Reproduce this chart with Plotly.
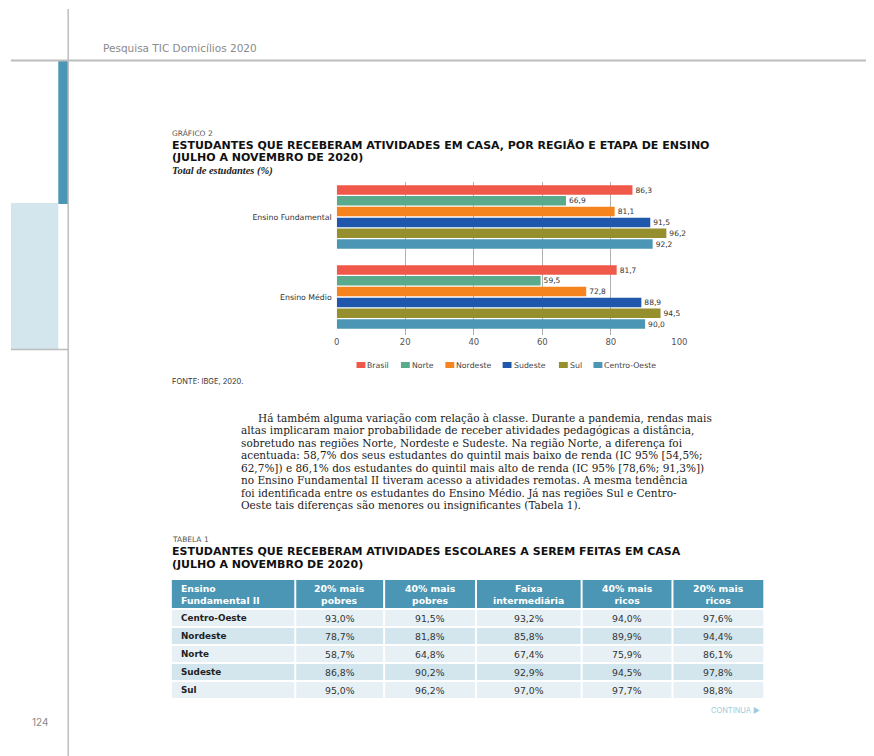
import plotly.graph_objects as go

W, H = 874, 756

# ---------------- data ----------------
categorias = ["Ensino Fundamental", "Ensino Médio"]
series = ["Brasil", "Norte", "Nordeste", "Sudeste", "Sul", "Centro-Oeste"]
brasil = [86.3, 81.7]
norte = [66.9, 59.5]
nordeste = [81.1, 72.8]
sudeste = [91.5, 88.9]
sul = [96.2, 94.5]
centro_oeste = [92.2, 90.0]
cores = ["#f0584a", "#5aab8c", "#f5841f", "#1f57ad", "#968f2e", "#4a96b4"]
x_ticks = [0, 20, 40, 60, 80, 100]

tabela_cabecalho = ["Ensino<br>Fundamental II", "20% mais<br>pobres", "40% mais<br>pobres",
                    "Faixa<br>intermediária", "40% mais<br>ricos", "20% mais<br>ricos"]
tabela_regioes = ["Centro-Oeste", "Nordeste", "Norte", "Sudeste", "Sul"]
mais_pobres_20 = [93.0, 78.7, 58.7, 86.8, 95.0]
mais_pobres_40 = [91.5, 81.8, 64.8, 90.2, 96.2]
faixa_intermediaria = [93.2, 85.8, 67.4, 92.9, 97.0]
mais_ricos_40 = [94.0, 89.9, 75.9, 94.5, 97.7]
mais_ricos_20 = [97.6, 94.4, 86.1, 97.8, 98.8]

paragrafo = [
    "Há também alguma variação com relação à classe. Durante a pandemia, rendas mais",
    "altas implicaram maior probabilidade de receber atividades pedagógicas a distância,",
    "sobretudo nas regiões Norte, Nordeste e Sudeste. Na região Norte, a diferença foi",
    "acentuada: 58,7% dos seus estudantes do quintil mais baixo de renda (IC 95% [54,5%;",
    "62,7%]) e 86,1% dos estudantes do quintil mais alto de renda (IC 95% [78,6%; 91,3%])",
    "no Ensino Fundamental II tiveram acesso a atividades remotas. A mesma tendência",
    "foi identificada entre os estudantes do Ensino Médio. Já nas regiões Sul e Centro-",
    "Oeste tais diferenças são menores ou insignificantes (Tabela 1).",
]

# ---------------- helpers ----------------
def px(x):
    return x / W

def py(y):
    return 1 - y / H

def br(v, suf=""):
    return f"{v:.1f}".replace(".", ",") + suf

SANS = "'DejaVu Sans', sans-serif"
INTER = "Inter, Roboto, sans-serif"
SERIF = "'DejaVu Serif', serif"

fig = go.Figure()

valores = [brasil, norte, nordeste, sudeste, sul, centro_oeste]
for nome, vals, cor in zip(series, valores, cores):
    fig.add_trace(go.Bar(
        orientation="h", y=categorias, x=vals, name=nome,
        marker=dict(color=cor, line=dict(width=0)),
        text=[br(v) for v in vals], textposition="outside",
        textfont=dict(family=SANS, size=7.5, color="#333"),
        constraintext="none", cliponaxis=False, showlegend=False,
        hoverinfo="skip",
    ))

shapes = []
annotations = []

def txt(x, y, s, size, color="#222", family=SANS, xanchor="left", yanchor="middle"):
    annotations.append(dict(x=px(x), y=py(y), xref="paper", yref="paper", text=s, showarrow=False,
                            xanchor=xanchor, yanchor=yanchor, align="left" if xanchor == "left" else "center",
                            borderpad=0,
                            font=dict(family=family, size=size, color=color)))

def rect(x0, y0, x1, y1, color):
    shapes.append(dict(type="rect", xref="paper", yref="paper", x0=px(x0), x1=px(x1),
                       y0=py(y1), y1=py(y0), fillcolor=color, line=dict(width=0), layer="below"))

def hline(x0, x1, y, color, w):
    shapes.append(dict(type="line", xref="paper", yref="paper", x0=px(x0), x1=px(x1), y0=py(y), y1=py(y),
                       line=dict(color=color, width=w)))

# page decorations
shapes.append(dict(type="line", xref="paper", yref="paper", x0=px(66), x1=px(66), y0=py(9), y1=py(756),
                   line=dict(color="#bdbdbd", width=1.5)))
hline(8, 874, 60.5, "#bdbdbd", 2)
rect(56, 61, 66, 204, "#4a96b4")
rect(8, 203, 56, 349, "#d3e6ee")
hline(8, 66, 349.5, "#bdbdbd", 1.5)

# manual legend
leg_x = [358, 403, 448, 506, 563, 598]
for nome, cor, lx in zip(series, cores, leg_x):
    rect(lx, 362, lx + 9, 368, cor)
    txt(lx + 10, 365, nome, 7.8, "#444")

# ---- table (drawn with shapes + text) ----
col_edges = [170, 296, 386, 479, 586, 678, 771]
head_top, head_bot, row_h = 580, 609, 18
fill_a, fill_b = "#e7f1f5", "#d3e6ee"
cols = [mais_pobres_20, mais_pobres_40, faixa_intermediaria, mais_ricos_40, mais_ricos_20]
for c in range(6):
    x0, x1 = col_edges[c] + 1, col_edges[c + 1] - 1
    rect(x0, head_top, x1, head_bot - 1, "#4a96b4")
    head = f"<b>{tabela_cabecalho[c]}</b>"
    if c == 0:
        txt(col_edges[c] + 9, (head_top + head_bot) / 2, head, 9.3, "white")
    else:
        txt((col_edges[c] + col_edges[c + 1]) / 2, (head_top + head_bot) / 2, head, 9.3, "white",
            xanchor="center")
    for r in range(len(tabela_regioes)):
        y0 = head_bot + r * row_h + 1
        rect(x0, y0, x1, y0 + row_h - 2, fill_a if r % 2 == 0 else fill_b)
        yc = y0 + (row_h - 2) / 2
        if c == 0:
            txt(col_edges[c] + 9, yc, f"<b>{tabela_regioes[r]}</b>", 8.8, "#222")
        else:
            txt((col_edges[c] + col_edges[c + 1]) / 2, yc, br(cols[c - 1][r], "%"), 9.3, "#333",
                xanchor="center")

txt(100, 48, "Pesquisa TIC Domicílios 2020", 10.5, "#8a8a8a")
txt(170, 133, "GRÁFICO 2", 7.5, "#555")
txt(170, 145, "<b>ESTUDANTES QUE RECEBERAM ATIVIDADES EM CASA, POR REGIÃO E ETAPA DE ENSINO</b>", 11.0, "#111")
txt(170, 158, "<b>(JULHO A NOVEMBRO DE 2020)</b>", 11.0, "#111")
txt(170, 171, "<b><i>Total de estudantes (%)</i></b>", 10.5, "#222", family="'Liberation Serif', serif")
txt(170, 381, "FONTE: IBGE, 2020.", 7.5, "#333", family=INTER)

for i, linha in enumerate(paragrafo):
    x0 = 257 if i == 0 else 240
    txt(x0, 418 + i * 12.45, linha, 10.5, "#222", family=SERIF)

txt(170, 539.5, "TABELA 1", 7.5, "#555")
txt(170, 551.5, "<b>ESTUDANTES QUE RECEBERAM ATIVIDADES ESCOLARES A SEREM FEITAS EM CASA</b>", 11.0, "#111")
txt(170, 564.5, "<b>(JULHO A NOVEMBRO DE 2020)</b>", 11.0, "#111")
txt(768, 710, "CONTINUA ►", 7.5, "#9ccbdc", family=INTER, xanchor="right")
txt(37, 722, "124", 10, "#8a8a8a", family=INTER, xanchor="center")

fig.update_layout(
    width=W, height=H, margin=dict(l=0, r=0, t=0, b=0),
    paper_bgcolor="white", plot_bgcolor="white",
    barmode="group", bargap=0.19, bargroupgap=0.12,
    showlegend=False, hovermode=False,
    shapes=shapes, annotations=annotations,
    xaxis=dict(domain=[px(338), px(685)], range=[0, 100], tickvals=x_ticks,
               showgrid=True, gridcolor="#b0b0b0", gridwidth=1, zeroline=False, showline=False,
               ticks="", tickfont=dict(family=SANS, size=8.5, color="#555"), fixedrange=True),
    yaxis=dict(domain=[py(335), py(182)], type="category", range=[1.475, -0.4375],
               showgrid=False, zeroline=False, showline=False, ticks="", ticklabelstandoff=4,
               tickfont=dict(family=SANS, size=7.8, color="#333"), fixedrange=True),
)

fig.write_html("out.html", config={"displayModeBar": False, "staticPlot": True},
               post_script="document.body.style.margin='0px';document.body.style.overflow='hidden';")
